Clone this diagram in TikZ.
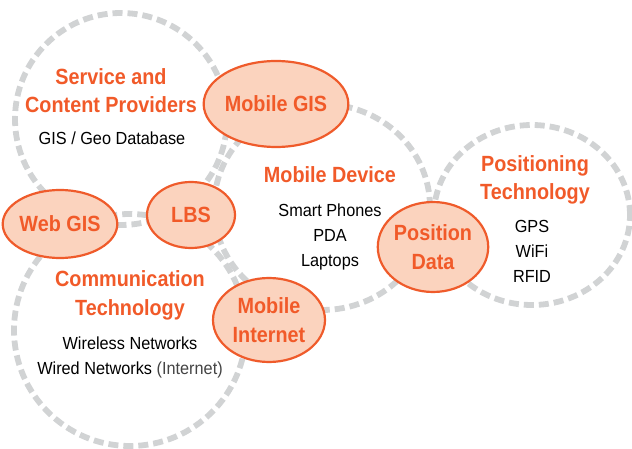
\documentclass[tikz,border=0pt]{standalone}
\usepackage{fontspec}
\setmainfont[FakeStretch=0.9]{Liberation Sans}
\newfontfamily\regfont[FakeStretch=0.93]{Liberation Sans}
\usetikzlibrary{shapes.geometric}
\definecolor{dashgray}{HTML}{D1D3D4}
\definecolor{orstroke}{HTML}{EF5B2B}
\definecolor{orfill}{HTML}{FBD3BE}
\definecolor{ortext}{HTML}{F15A29}
\definecolor{softtext}{HTML}{444444}
\tikzset{
  zone/.style={draw=dashgray, line width=5.8pt, dash pattern=on 10pt off 5pt, ellipse, inner sep=0pt},
  hub/.style={draw=orstroke, fill=orfill, line width=2.2pt, ellipse, inner sep=0pt, text=ortext,
    font=\bfseries\fontsize{22}{29}\selectfont, align=center},
  title/.style={anchor=base, text=ortext, font=\bfseries\fontsize{22}{28}\selectfont, inner sep=0pt},
  item/.style={anchor=base, text=black, font=\regfont\fontsize{17.5}{24}\selectfont, inner sep=0pt},
}
\begin{document}
\begin{tikzpicture}[x=1pt,y=-1pt]
\useasboundingbox (0,0) rectangle (632,449);
% dashed zones
\node[zone, minimum width=212pt, minimum height=212pt] (svc) at (121,119) {};
\node[zone, minimum width=232pt, minimum height=232pt] (comm) at (130,330) {};
\node[zone, minimum width=216pt, minimum height=206pt] (dev) at (322,207) {};
\node[zone, minimum width=196pt, minimum height=180pt] (pos) at (532,215) {};
% hubs
\node[hub, minimum width=124pt, minimum height=86pt] (mgis) at (276,104) {Mobile GIS};
\node[hub, minimum width=106pt, minimum height=68pt] (wgis) at (60,224) {Web GIS};
\node[hub, minimum width=88pt, minimum height=66pt] (lbs) at (191,215) {LBS};
\node[hub, minimum width=112pt, minimum height=84pt] (mint) at (269,320) {Mobile\\Internet};
\node[hub, minimum width=108pt, minimum height=90pt] (pdata) at (433,247) {Position\\Data};
% zone texts
\node[title] (svc1) at (111,85) {Service and};
\node[title] (svc2) at (111,113) {Content Providers};
\node[item] (svc3) at (112,145) {GIS / Geo Database};
\node[title] (dev1) at (330,183) {Mobile Device};
\node[item] (dev2) at (330,217) {Smart Phones};
\node[item] (dev3) at (330,242) {PDA};
\node[item] (dev4) at (330,266) {Laptops};
\node[title] (pos1) at (535,172) {Positioning};
\node[title] (pos2) at (535,200) {Technology};
\node[item] (pos3) at (532,233) {GPS};
\node[item] (pos4) at (532,258) {WiFi};
\node[item] (pos5) at (532,282) {RFID};
\node[title] (comm1) at (130,287) {Communication};
\node[title] (comm2) at (130,315) {Technology};
\node[item] (comm3) at (130,349) {Wireless Networks};
\node[item] (comm4) at (130,374) {Wired Networks {\color{softtext}(Internet)}};
\end{tikzpicture}
\end{document}
